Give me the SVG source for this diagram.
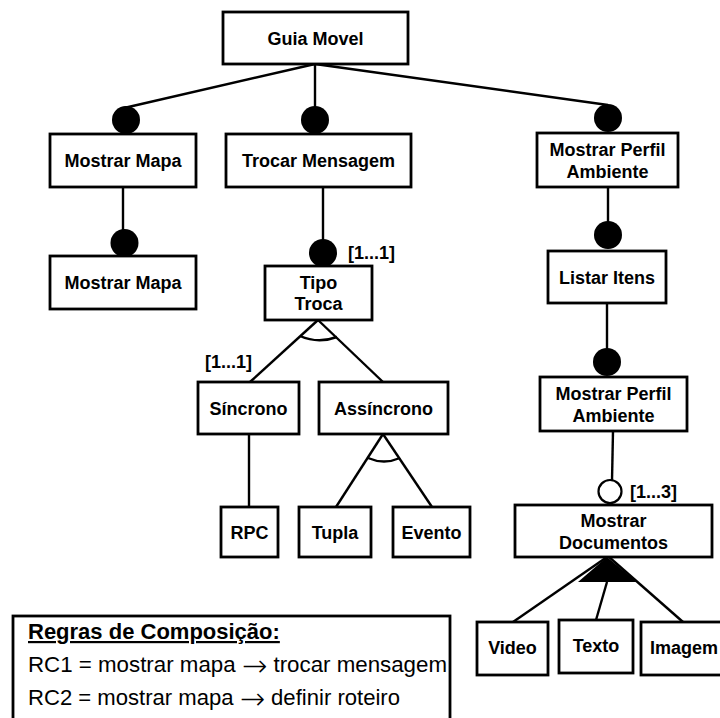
<svg xmlns="http://www.w3.org/2000/svg" width="720" height="718" viewBox="0 0 720 718">
  <style>
    .box { fill: #fff; stroke: #000; stroke-width: 2.8; }
    .lbl { font-family: "Liberation Sans", Arial, sans-serif; font-weight: bold; font-size: 18px; fill: #000; text-anchor: middle; }
    .card { font-family: "Liberation Sans", Arial, sans-serif; font-weight: bold; font-size: 18px; fill: #000; }
    .rule { font-family: "Liberation Sans", Arial, sans-serif; font-size: 22px; fill: #000; }
    .arr { font-family: "DejaVu Sans", sans-serif; font-size: 30px; font-weight: 200; }
    .edge { stroke: #000; stroke-width: 2.4; fill: none; }
    .mand { fill: #000; }
    .opt { fill: #fff; stroke: #000; stroke-width: 2.2; }
  </style>
  <rect width="720" height="718" fill="#fff"/>

  <!-- connectors -->
  <g id="connectors">
    <line class="edge" x1="315" y1="64" x2="124" y2="108"/>
    <line class="edge" x1="315" y1="64" x2="315" y2="107"/>
    <line class="edge" x1="315" y1="64" x2="608" y2="105"/>
    <line class="edge" x1="123" y1="187" x2="123" y2="230"/>
    <line class="edge" x1="323" y1="187" x2="323" y2="240"/>
    <line class="edge" x1="608" y1="187" x2="608" y2="222"/>
    <line class="edge" x1="607" y1="303" x2="607" y2="349"/>
    <line class="edge" x1="613" y1="431" x2="612" y2="481"/>
    <!-- Tipo Troca alternative group -->
    <line class="edge" x1="318" y1="320" x2="250" y2="382"/>
    <line class="edge" x1="318" y1="320" x2="383" y2="382"/>
    <path class="edge" d="M300,336 Q318,344 337,337"/>
    <!-- Sincrono -->
    <line class="edge" x1="249" y1="434" x2="249" y2="507"/>
    <!-- Assincrono alternative group -->
    <line class="edge" x1="383" y1="434" x2="336" y2="507"/>
    <line class="edge" x1="383" y1="434" x2="432" y2="507"/>
    <path class="edge" d="M368,458 Q384,465 400,458"/>
    <!-- Mostrar Documentos or-group -->
    <polygon fill="#000" points="607,557 578,582 637,582"/>
    <line class="edge" x1="607" y1="557" x2="513" y2="622"/>
    <line class="edge" x1="607" y1="582" x2="596" y2="620"/>
    <line class="edge" x1="609" y1="557" x2="683" y2="622"/>
    <!-- mandatory / optional markers -->
    <circle class="mand" cx="126" cy="120" r="14"/>
    <circle class="mand" cx="315" cy="120" r="14"/>
    <circle class="mand" cx="608" cy="118" r="14"/>
    <circle class="mand" cx="124.5" cy="243" r="14"/>
    <circle class="mand" cx="323" cy="253" r="14"/>
    <circle class="mand" cx="608" cy="235" r="14"/>
    <circle class="mand" cx="607" cy="362" r="14"/>
    <circle class="opt" cx="610" cy="491.5" r="11.5"/>
    <text class="card" x="348" y="258.5">[1...1]</text>
    <text class="card" x="205" y="368">[1...1]</text>
    <text class="card" x="630" y="497.5">[1...3]</text>
  </g>

  <g id="guia-movel">
    <rect class="box" x="223" y="12" width="185" height="52"/>
    <text class="lbl" x="315.5" y="44.5">Guia Movel</text>
  </g>
  <g id="mostrar-mapa">
    <rect class="box" x="50" y="134" width="146" height="53"/>
    <text class="lbl" x="123" y="166.5">Mostrar Mapa</text>
  </g>
  <g id="trocar-mensagem">
    <rect class="box" x="226" y="134" width="185" height="53"/>
    <text class="lbl" x="318.5" y="166.5">Trocar Mensagem</text>
  </g>
  <g id="mostrar-perfil-ambiente">
    <rect class="box" x="537" y="133" width="141" height="54"/>
    <text class="lbl" x="607.5" y="155.5">Mostrar Perfil</text>
    <text class="lbl" x="607.5" y="177.5">Ambiente</text>
  </g>
  <g id="mostrar-mapa-2">
    <rect class="box" x="50" y="256" width="146" height="53"/>
    <text class="lbl" x="123" y="288.5">Mostrar Mapa</text>
  </g>
  <g id="tipo-troca">
    <rect class="box" x="265" y="266" width="107" height="54"/>
    <text class="lbl" x="318.5" y="288.5">Tipo</text>
    <text class="lbl" x="318.5" y="309.5">Troca</text>
  </g>
  <g id="listar-itens">
    <rect class="box" x="548" y="251" width="118" height="52"/>
    <text class="lbl" x="607" y="283.5">Listar Itens</text>
  </g>
  <g id="sincrono">
    <rect class="box" x="198" y="382" width="101" height="52"/>
    <text class="lbl" x="248.5" y="414.5">Síncrono</text>
  </g>
  <g id="assincrono">
    <rect class="box" x="319" y="382" width="129" height="52"/>
    <text class="lbl" x="383.5" y="414.5">Assíncrono</text>
  </g>
  <g id="mostrar-perfil-ambiente-2">
    <rect class="box" x="540" y="377" width="147" height="54"/>
    <text class="lbl" x="613.5" y="399.5">Mostrar Perfil</text>
    <text class="lbl" x="613.5" y="421.5">Ambiente</text>
  </g>
  <g id="rpc">
    <rect class="box" x="221" y="507" width="57" height="50"/>
    <text class="lbl" x="249.5" y="538.5">RPC</text>
  </g>
  <g id="tupla">
    <rect class="box" x="299" y="507" width="72" height="50"/>
    <text class="lbl" x="335" y="538.5">Tupla</text>
  </g>
  <g id="evento">
    <rect class="box" x="393" y="507" width="77" height="50"/>
    <text class="lbl" x="431.5" y="538.5">Evento</text>
  </g>
  <g id="mostrar-documentos">
    <rect class="box" x="515" y="505" width="197" height="52"/>
    <text class="lbl" x="613.5" y="526.5">Mostrar</text>
    <text class="lbl" x="613.5" y="548.5">Documentos</text>
  </g>
  <g id="video">
    <rect class="box" x="477" y="622" width="71" height="53"/>
    <text class="lbl" x="512.5" y="653.5">Video</text>
  </g>
  <g id="texto">
    <rect class="box" x="559" y="620" width="74" height="53"/>
    <text class="lbl" x="596" y="652">Texto</text>
  </g>
  <g id="imagem">
    <rect class="box" x="641" y="622" width="90" height="53"/>
    <text class="card" x="650" y="653.5">Imagem</text>
  </g>

  <g id="regras">
    <rect class="box" x="13" y="616" width="437" height="120"/>
    <text class="rule" x="28" y="639" font-weight="bold" text-decoration="underline">Regras de Composição:</text>
    <text class="rule" x="28" y="672" textLength="419" lengthAdjust="spacingAndGlyphs">RC1 = mostrar mapa <tspan class="arr" dy="4">→</tspan><tspan dy="-4"> trocar mensagem</tspan></text>
    <text class="rule" x="28" y="705" textLength="372" lengthAdjust="spacingAndGlyphs">RC2 = mostrar mapa <tspan class="arr" dy="4">→</tspan><tspan dy="-4"> definir roteiro</tspan></text>
  </g>
</svg>
